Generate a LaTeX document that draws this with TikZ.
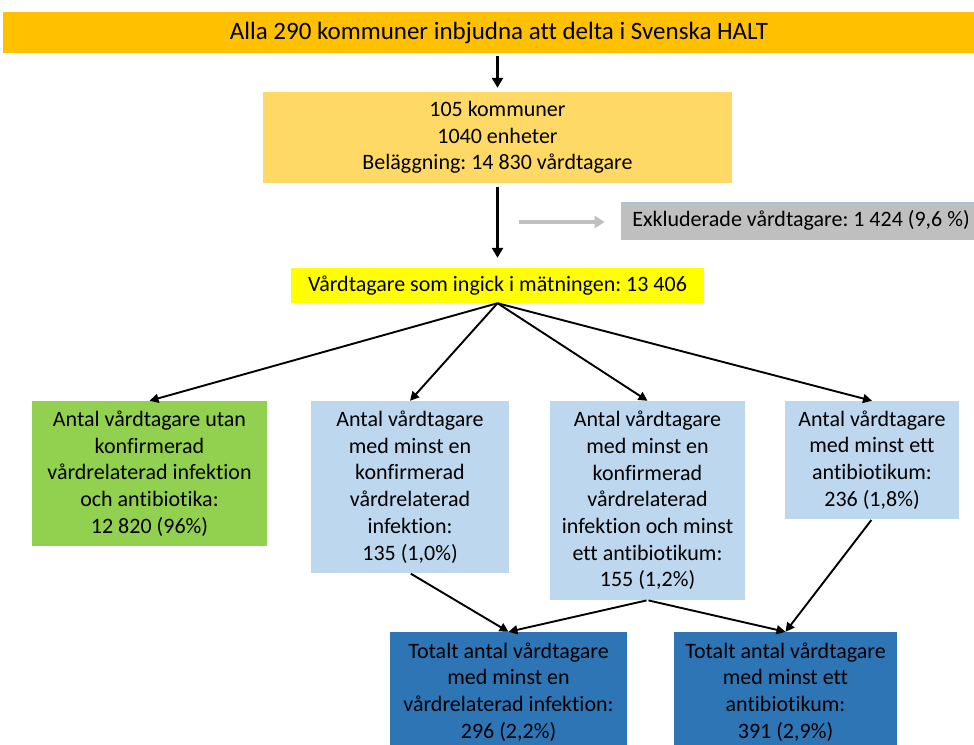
\documentclass[tikz,border=0pt]{standalone}
\usepackage{fontspec}
\setmainfont[Ligatures=NoCommon]{Carlito}
\usetikzlibrary{arrows.meta}
\definecolor{cTop}{HTML}{FFC000}
\definecolor{cOrange}{HTML}{FFD966}
\definecolor{cGrey}{HTML}{BFBFBF}
\definecolor{cGreyBorder}{HTML}{A9C4E0}
\definecolor{cYellow}{HTML}{FFFF00}
\definecolor{cGreen}{HTML}{92D050}
\definecolor{cLight}{HTML}{BDD7EE}
\definecolor{cDark}{HTML}{2E75B6}
\tikzset{
  box/.style={rectangle, inner sep=0pt, align=center, text=black,
    font=\fontsize{22}{26.7}\selectfont},
  bigarr/.style={-{Triangle[length=10pt,width=11pt]}, line width=2.6pt, black},
  fanarr/.style={-{Triangle[length=9pt,width=9pt]}, line width=1.9pt, black},
  greyarr/.style={-{Triangle[length=10pt,width=12pt]}, line width=3.5pt, cGrey},
}
\frenchspacing
\begin{document}
\begin{tikzpicture}[x=1pt,y=-1pt]
\useasboundingbox (0,0) rectangle (974,744);
\clip (0,0) rectangle (974,744);
\fill[white] (0,0) rectangle (974,744);

\node[box, fill=cTop, minimum width=992pt, minimum height=41pt,
  font=\fontsize{25}{30}\selectfont] (top) at (499,32.5)
  {Alla 290 kommuner inbjudna att delta i Svenska HALT};

\node[box, fill=cOrange, minimum width=469pt, minimum height=91pt] (b2) at (497.5,137.5)
  {105 kommuner\\1040 enheter\\Beläggning: 14 830 vårdtagare};

\node[box, fill=cGrey, draw=cGreyBorder, line width=0.8pt, minimum width=360pt, minimum height=37pt] (ex) at (801,220.5)
  {Exkluderade vårdtagare: 1 424 (9,6 \%)};

\node[box, fill=cYellow, minimum width=413pt, minimum height=35pt] (inc) at (497.5,285.5)
  {Vårdtagare som ingick i mätningen: 13 406};

\node[box, fill=cGreen, minimum width=235pt, minimum height=145pt] (g) at (149.5,473.5)
  {Antal vårdtagare utan\\konfirmerad\\vårdrelaterad infektion\\och antibiotika:\\12 820 (96\%)};

\node[box, fill=cLight, minimum width=198pt, minimum height=172pt] (l1) at (410,487)
  {Antal vårdtagare\\med minst en\\konfirmerad\\vårdrelaterad\\infektion:\\135 (1,0\%)};

\node[box, fill=cLight, minimum width=195pt, minimum height=199pt] (l2) at (647.5,500.5)
  {Antal vårdtagare\\med minst en\\konfirmerad\\vårdrelaterad\\infektion och minst\\ett antibiotikum:\\155 (1,2\%)};

\node[box, fill=cLight, minimum width=174pt, minimum height=118pt] (l3) at (872,460)
  {Antal vårdtagare\\med minst ett\\antibiotikum:\\236 (1,8\%)};

\node[box, fill=cDark, minimum width=237pt, minimum height=120pt] (d1) at (508.5,692)
  {Totalt antal vårdtagare\\med minst en\\vårdrelaterad infektion:\\296 (2,2\%)};

\node[box, fill=cDark, minimum width=223pt, minimum height=120pt] (d2) at (785.5,692)
  {Totalt antal vårdtagare\\med minst ett\\antibiotikum:\\391 (2,9\%)};

% vertical arrows
\draw[bigarr, shorten <=3pt, shorten >=4pt] (top.south -| b2.north) -- (b2.north);
\draw[bigarr, shorten <=4pt, shorten >=10pt] (b2.south) -- (inc.north);

% grey arrow
\coordinate (gs) at (519,222);
\draw[greyarr, shorten >=16pt] (gs) -- (gs -| ex.west);

% fan
\draw[fanarr] (inc.south) -- (g.north);
\draw[fanarr] (inc.south) -- (l1.north);
\draw[fanarr] (inc.south) -- (l2.north);
\draw[fanarr] (inc.south) -- (l3.north);

% to totals
\draw[fanarr, shorten <=1pt] (l1.south) -- (d1.north);
\draw[fanarr, shorten <=1pt] (l2.south) -- (d1.north);
\draw[fanarr, shorten <=1pt] (l2.south) -- (d2.north);
\draw[fanarr, shorten <=1pt] (l3.south) -- (d2.north);
\end{tikzpicture}
\end{document}
